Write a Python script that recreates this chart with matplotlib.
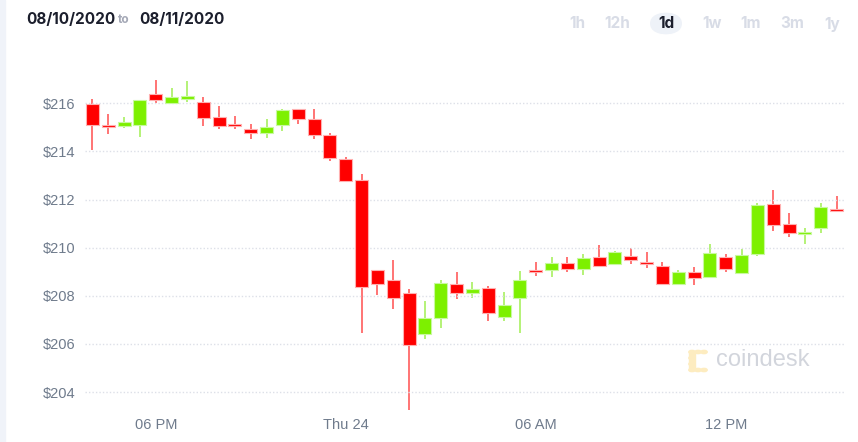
import numpy as np
import matplotlib
matplotlib.use("Agg")
import matplotlib.pyplot as plt
from matplotlib.patches import Rectangle, FancyBboxPatch, Circle

# 30-minute candles, first one at 4 PM
opens = [215.97, 215.08, 215.06, 215.11, 216.39, 216.03, 216.19, 216.06, 215.42, 215.12,
         214.94, 214.77, 215.10, 215.75, 215.36, 214.66, 213.68, 212.80, 209.07, 208.64,
         208.12, 206.41, 207.06, 208.50, 208.11, 208.34, 207.10, 207.90, 209.06, 209.06,
         209.37, 209.12, 209.60, 209.32, 209.67, 209.41, 209.24, 208.50, 208.97, 208.79,
         209.61, 208.96, 209.75, 211.83, 210.99, 210.58, 210.81, 211.62]
closes = [215.11, 215.00, 215.20, 216.12, 216.14, 216.25, 216.30, 215.40, 215.06, 215.07,
          214.77, 215.02, 215.71, 215.35, 214.66, 213.73, 212.78, 208.36, 208.48, 207.92,
          205.96, 207.08, 208.52, 208.11, 208.30, 207.30, 207.63, 208.66, 208.99, 209.37,
          209.13, 209.57, 209.23, 209.82, 209.48, 209.34, 208.50, 208.97, 208.72, 209.77,
          209.10, 209.71, 211.79, 210.94, 210.60, 210.67, 211.67, 211.54]
highs = [216.18, 215.54, 215.44, 216.12, 216.97, 216.65, 216.93, 216.25, 215.89, 215.47,
         215.12, 215.36, 215.75, 215.78, 215.78, 214.76, 213.76, 213.04, 209.07, 209.49,
         208.27, 207.77, 208.66, 208.97, 208.59, 208.39, 208.14, 209.05, 209.39, 209.63,
         209.63, 209.72, 210.10, 209.85, 210.00, 209.82, 209.42, 209.08, 209.21, 210.15,
         209.72, 209.96, 211.86, 212.38, 211.43, 210.81, 211.86, 212.15]
lows = [214.04, 214.71, 214.96, 214.60, 216.03, 216.03, 216.07, 215.06, 214.92, 214.94,
        214.51, 214.55, 214.85, 215.14, 214.52, 213.61, 212.75, 206.44, 208.03, 207.44,
        203.26, 206.19, 206.66, 207.85, 207.90, 206.95, 206.97, 206.44, 208.81, 208.77,
        208.98, 208.86, 209.19, 209.30, 209.31, 209.14, 208.44, 208.48, 208.44, 208.79,
        208.99, 208.96, 209.65, 210.71, 210.44, 210.17, 210.63, 211.49]

tick_idx = [4, 16, 28, 40]
tick_labels = ["06 PM", "Thu 24", "06 AM", "12 PM"]
y_ticks = [204, 206, 208, 210, 212, 214, 216]

fig = plt.figure(figsize=(8.58, 4.42), dpi=100)
fig.patch.set_facecolor("white")

# thin page strip on the left
fig.patches.append(Rectangle((0, 0), 5 / 858, 1, transform=fig.transFigure,
                             color="#f0f3f9", zorder=0))

ax = fig.add_axes([85 / 858, 27 / 442, 760 / 858, 345 / 442])
ax.set_xlim(-0.47, 47.53)
ax.set_ylim(203.05, 217.38)
for s in ax.spines.values():
    s.set_visible(False)

red, green = "#ff0000", "#7df000"
w = 0.82
for i in range(len(opens)):
    o, c, h, l = opens[i], closes[i], highs[i], lows[i]
    up = c >= o
    col = green if up else red
    wick = "#a8f060" if up else "#ff5c5c"
    ax.vlines(i, l, h, color=wick, linewidth=1.2, zorder=2)
    bot = min(o, c)
    hgt = max(abs(c - o), 0.05)
    ax.add_patch(Rectangle((i - w / 2, bot), w, hgt, facecolor=col,
                           edgecolor="#ffb0b0" if not up else "#c8f8a0",
                           linewidth=0.8, zorder=3))

ax.set_yticks(y_ticks)
ax.set_yticklabels([f"${v}" for v in y_ticks])
ax.set_xticks(tick_idx)
ax.set_xticklabels(tick_labels)
ax.tick_params(axis="y", length=0, pad=7, labelsize=10.5, labelcolor="#6f7b8c")
ax.tick_params(axis="x", length=0, pad=2, labelsize=10.5, labelcolor="#6f7b8c")
for t in ax.get_xticklabels() + ax.get_yticklabels():
    t.set_fontfamily("Liberation Sans")
ax.grid(axis="y", color="#dde0e8", linestyle=(0, (1, 1.5)), linewidth=1, zorder=4)
ax.set_axisbelow(False)

# header
fig.text(26 / 858, 1 - 19 / 442, "08/10/2020", fontsize=11, fontweight="bold",
         color="#1b1e2c", family="Inter", va="center")
fig.text(118 / 858, 1 - 20 / 442, "to", fontsize=8.5, fontweight="bold",
         color="#a4a8b6", family="Inter", va="center")
fig.text(139 / 858, 1 - 19 / 442, "08/11/2020", fontsize=11, fontweight="bold",
         color="#1b1e2c", family="Inter", va="center")

fig.patches.append(FancyBboxPatch((650 / 858, 1 - 35 / 442), 32 / 858, 23 / 442,
                                  boxstyle="round,pad=0,rounding_size=0.026",
                                  transform=fig.transFigure, facecolor="#eef2f8",
                                  edgecolor="none", zorder=1))
buttons = ["1h", "12h", "1d", "1w", "1m", "3m", "1y"]
btn_x = [577, 617, 666, 712, 751, 792, 832]
for lab, bx in zip(buttons, btn_x):
    fig.text(bx / 858, 1 - 24 / 442, lab, fontsize=11, fontweight="bold",
             color="#1b1e2c" if lab == "1d" else "#d8dce6", family="Inter",
             ha="center", va="center", zorder=2)

# watermark
wx, wy = 695, 361
for dx, dy in [(-3, -9), (3, -9), (9, -9), (-3, -3), (-3, 3), (-3, 9), (3, 9), (9, 9)]:
    fig.patches.append(Circle(((wx + dx) / 858, 1 - (wy + dy) / 442), 3.2 / 858,
                              transform=fig.transFigure, color="#fdecc0", zorder=1))
fig.patches.append(Rectangle(((wx - 6) / 858, 1 - (wy + 9) / 442), 6 / 858, 18 / 442,
                             transform=fig.transFigure, color="#fdecc0", zorder=1))
fig.text(716 / 858, 1 - 360 / 442, "coindesk", fontsize=17, color="#d2d5dc",
         family="Liberation Sans", va="center")

fig.savefig("out.png", dpi=100)
